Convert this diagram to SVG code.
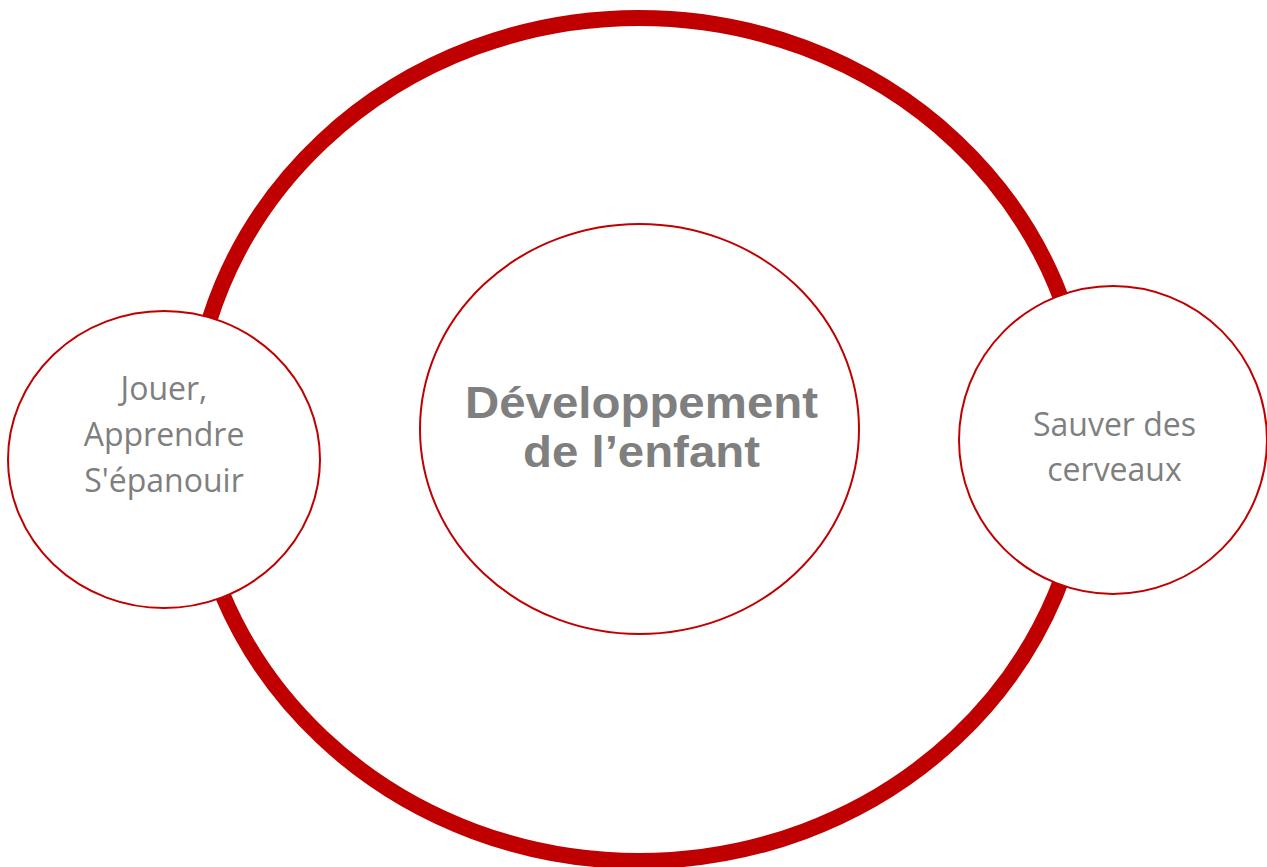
<svg xmlns="http://www.w3.org/2000/svg" width="1267" height="867" viewBox="0 0 1267 867">
<style>
.ring{fill:none;stroke:#C00000;stroke-width:16}
.node{fill:#FFFFFF;stroke:#C00000;stroke-width:2}
.lbl{font-family:"Open Sans","Noto Sans","Liberation Sans",sans-serif;font-size:32px;fill:#7F7F7F;text-anchor:middle}
.title{font-family:"Liberation Sans",Arial,sans-serif;font-weight:bold;font-size:44px;fill:#7F7F7F;text-anchor:middle}
</style>
<rect width="1267" height="867" fill="#FFFFFF"/>
<g id="ring">
<ellipse class="ring" cx="639" cy="439.5" rx="448" ry="421.5"/>
</g>
<g id="node-center">
<ellipse class="node" cx="639.5" cy="429" rx="219.5" ry="205"/>
<text class="title" x="641.5" y="418" textLength="353" lengthAdjust="spacingAndGlyphs">Développement</text>
<text class="title" x="641.5" y="467" textLength="237" lengthAdjust="spacingAndGlyphs">de l’enfant</text>
</g>
<g id="node-left">
<ellipse class="node" cx="164" cy="459.5" rx="156" ry="148.5"/>
<text class="lbl" x="164" y="400">Jouer,</text>
<text class="lbl" x="164" y="446">Apprendre</text>
<text class="lbl" x="164" y="492">S'épanouir</text>
</g>
<g id="node-right">
<ellipse class="node" cx="1113" cy="440" rx="154" ry="154"/>
<text class="lbl" x="1114.5" y="436">Sauver des</text>
<text class="lbl" x="1114.5" y="481">cerveaux</text>
</g>
</svg>
